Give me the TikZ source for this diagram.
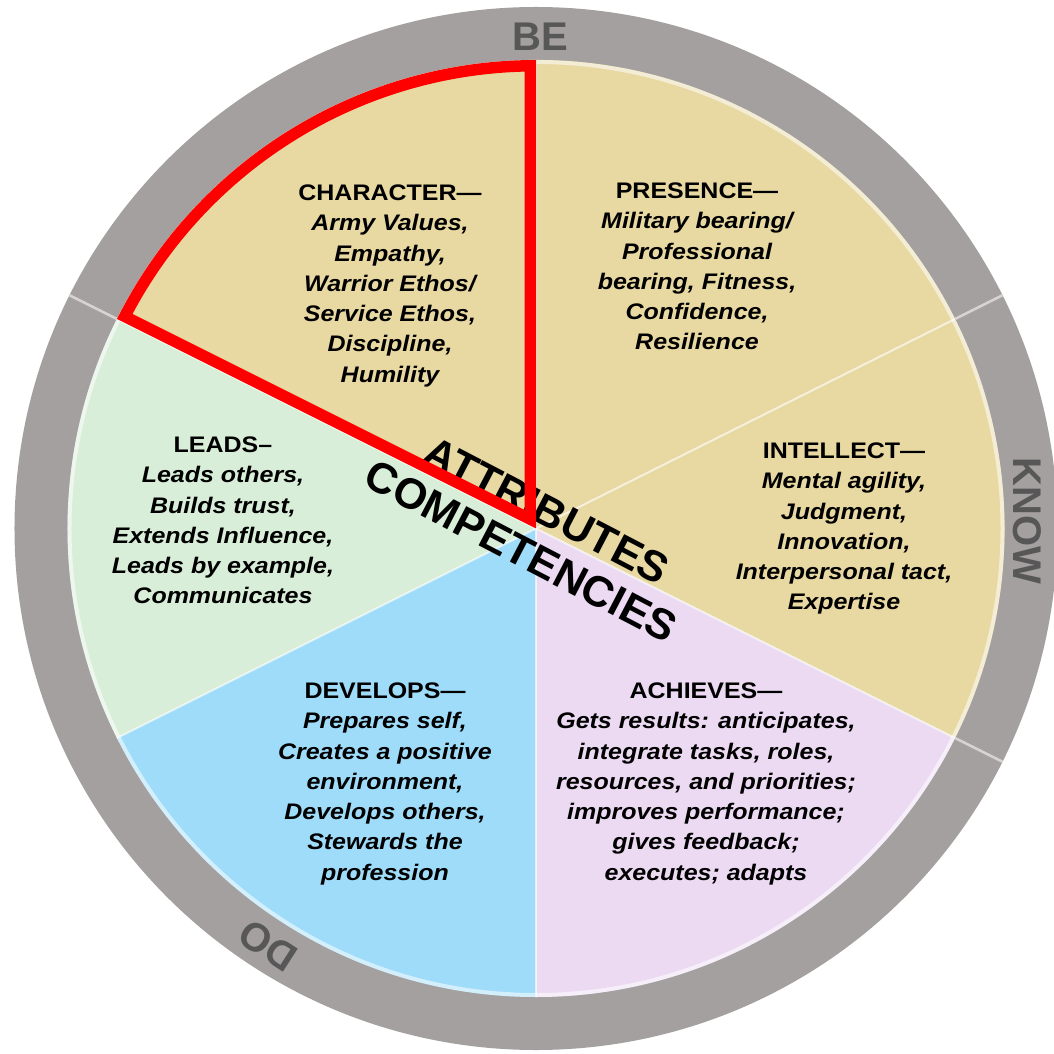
\documentclass[tikz,border=0pt]{standalone}
\usepackage{fontspec}
\setmainfont{Liberation Sans}
\newfontfamily\lblfont[FakeStretch=1.11]{Liberation Sans}
\definecolor{ringgrey}{HTML}{A4A09F}
\definecolor{ringtext}{HTML}{575757}
\definecolor{tansec}{HTML}{E8D8A2}
\definecolor{leadgreen}{HTML}{D9EED8}
\definecolor{devblue}{HTML}{9FDCFA}
\definecolor{achlav}{HTML}{ECDAF2}
\definecolor{ringline}{HTML}{D6D3D2}
\begin{document}
\begin{tikzpicture}[x=1pt,y=1pt,
  lbl/.style={align=center, anchor=north, inner sep=0pt, font=\lblfont\bfseries\itshape\fontsize{22.5}{30.3}\selectfont},
  ringlbl/.style={font=\bfseries\fontsize{40}{40}\selectfont, text=ringtext, inner sep=0pt},
  bigword/.style={font=\bfseries\fontsize{43}{43}\selectfont, inner sep=0pt}]
\useasboundingbox (-536,-525.5) rectangle (517,528.5);
\def\Rp{468.5}
\def\Ro{521.5}
% outer ring
\fill[ringgrey] (0,0) circle[radius=\Ro];
% sectors
\fill[tansec] (0,0) -- (-26.565:\Rp) arc[start angle=-26.565, end angle=153.435, radius=\Rp] -- cycle;
\fill[leadgreen] (0,0) -- (153.435:\Rp) arc[start angle=153.435, end angle=206.565, radius=\Rp] -- cycle;
\fill[devblue] (0,0) -- (206.565:\Rp) arc[start angle=206.565, end angle=270, radius=\Rp] -- cycle;
\fill[achlav] (0,0) -- (270:\Rp) arc[start angle=270, end angle=333.435, radius=\Rp] -- cycle;
% light rim
\draw[white, opacity=0.55, line width=4] (0,0) circle[radius=466.5];
% dividers
\foreach \a in {90,153.435,206.565,270,333.435,26.565}
  \draw[white, opacity=0.65, line width=2] (0,0) -- (\a:\Rp);
\foreach \a in {153.435,26.565,-26.565}
  \draw[ringline, line width=2.5] (\a:\Rp) -- (\a:\Ro);
% ring labels
\node[ringlbl] (be) at (4,491.5) {BE};
\node[ringlbl, rotate=-90] (know) at (491,7.5) {KNOW};
\node[ringlbl, rotate=147.3] (do) at (237.3:496) {DO};
% sector texts
\node[lbl] (character) at (-146,344) {{\upshape CHARACTER—}\\Army Values,\\Empathy,\\Warrior Ethos/\\Service Ethos,\\Discipline,\\Humility};
\node[lbl] (presence) at (161,346) {{\upshape PRESENCE—}\\Military bearing/\\Professional\\bearing, Fitness,\\Confidence,\\Resilience};
\node[lbl] (intellect) at (308,86) {{\upshape INTELLECT—}\\Mental agility,\\Judgment,\\Innovation,\\Interpersonal tact,\\Expertise};
\node[lbl] (leads) at (-313,92) {{\upshape LEADS–}\\Leads others,\\Builds trust,\\Extends Influence,\\Leads by example,\\Communicates};
\node[lbl] (develops) at (-151,-154) {{\upshape DEVELOPS—}\\Prepares self,\\Creates a positive\\environment,\\Develops others,\\Stewards the\\profession};
\node[lbl] (achieves) at (170,-154) {{\upshape ACHIEVES—}\\Gets results: anticipates,\\integrate tasks, roles,\\resources, and priorities;\\improves performance;\\gives feedback;\\executes; adapts};
% centre words
\begin{scope}[rotate=-27.5]
\node[bigword, rotate=-27.5] (attr) at (1,21) {ATTRIBUTES};
\node[bigword, rotate=-27.5] (comp) at (-2.7,-27) {COMPETENCIES};
\end{scope}
% red outline of the character sector
\begin{scope}
\clip (0,0) -- (90:\Rp) arc[start angle=90, end angle=153.435, radius=\Rp] -- cycle;
\draw[red, line width=23, line join=miter] (0,0) -- (90:\Rp) arc[start angle=90, end angle=153.435, radius=\Rp] -- cycle;
\end{scope}
\end{tikzpicture}
\end{document}
